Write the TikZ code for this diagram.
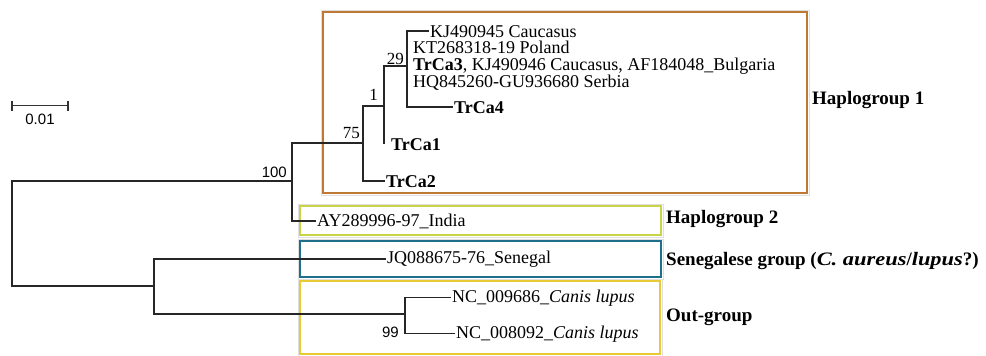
\documentclass[tikz,border=0pt]{standalone}
\usepackage{fontspec}
\setmainfont{Liberation Serif}
\setsansfont{Liberation Sans}
\usetikzlibrary{positioning, calc}
\definecolor{hap_one}{RGB}{190,122,52}
\definecolor{hap_two}{RGB}{200,212,72}
\definecolor{sen_col}{RGB}{30,110,140}
\definecolor{out_col}{RGB}{232,202,52}
\newcommand{\wideit}[1]{{\addfontfeature{FakeStretch=1.18}\itshape #1}}
\tikzset{
  branch/.style={line width=1.6pt, black!85},
  scale_bar/.style={line width=1.2pt, black!80},
  leaf/.style={anchor=base west, inner xsep=1.5pt, inner ysep=0pt, font=\fontsize{18}{18}\selectfont},
  leaf_bold/.style={leaf, font=\fontsize{18}{18}\selectfont\bfseries},
  support/.style={anchor=base east, inner sep=0pt, font=\fontsize{17}{17}\selectfont},
  support_sans/.style={anchor=base east, inner sep=0pt, font=\sffamily\fontsize{15}{15}\selectfont},
  group_label/.style={anchor=base west, inner sep=0pt, font=\fontsize{19}{19}\selectfont\bfseries},
  group_box/.style={line width=1.3pt},
  box_rim/.style={draw=gray!25, line width=0.8pt}
}

\begin{document}
\begin{tikzpicture}[x=1pt, y=-1pt]
  \useasboundingbox (0,0) rectangle (986,356);

  % Group boxes
  \foreach \a/\b/\c/\d/\col in {323/12/807/193/hap_one, 300/206/661/235/hap_two, 300/241/661/277/sen_col, 300/281/660/354/out_col}{
    \draw[box_rim] (\a-2,\b-2) rectangle (\c+2,\d+2);
    \draw[group_box, draw=\col] (\a,\b) rectangle (\c,\d);
  }

  % Leaves
  \node[leaf] (kj45) at (428.5,37) {KJ490945 Caucasus};
  \node[leaf] (kt) at (411.5,53) {KT268318-19 Poland};
  \node[leaf] (trca3) at (411.5,70) {\textbf{TrCa3}, KJ490946 Caucasus, AF184048\_Bulgaria};
  \node[leaf] (hq) at (411.5,87) {HQ845260-GU936680 Serbia};
  \node[leaf_bold] (trca4) at (452.5,113) {TrCa4};
  \node[leaf_bold] (trca1) at (389.5,150) {TrCa1};
  \node[leaf_bold] (trca2) at (384.5,187) {TrCa2};
  \node[leaf] (india) at (315.5,226) {AY289996-97\_India};
  \node[leaf] (senegal) at (385.5,263) {JQ088675-76\_Senegal};
  \node[leaf] (nc686) at (450.5,302) {NC\_009686\_\textit{Canis lupus}};
  \node[leaf] (nc092) at (454.5,338) {NC\_008092\_\textit{Canis lupus}};

  % Internal nodes
  \coordinate (root) at (12,230);
  \coordinate (n100) at (292,181);
  \coordinate (nlow) at (154,286);
  \coordinate (n75) at (363,143);
  \coordinate (n1) at (384,106);
  \coordinate (n29) at (407,66);
  \coordinate (n99) at (405,314);

  % Branches
  \draw[branch] (n100) -| (root) |- (nlow);
  \draw[branch] (n75) -| (n100) |- (india.west);
  \draw[branch] (n1) -| (n75) |- (trca2.west);
  \draw[branch] (n29) -| (n1) -- (n1 |- trca1.west);
  \draw[branch] (kj45.west) -| (n29) |- (trca4.west);
  \draw[branch] (senegal.west) -| (nlow) |- (n99);
  \draw[branch] (nc686.west) -| (n99) |- (nc092.west);

  % Support values
  \node[support_sans] (s100) at (287,177) {100};
  \node[support] (s75) at (360,138) {75};
  \node[support] (s1) at (378,100) {1};
  \node[support] (s29) at (404,64) {29};
  \node[support_sans] (s99) at (399,337) {99};

  % Group labels
  \node[group_label] (g_one) at (812,104) {Haplogroup 1};
  \node[group_label] (g_two) at (666,223) {Haplogroup 2};
  \node[group_label] (g_sen) at (666,265) {Senegalese group (\wideit{C. aureus}/\wideit{lupus}?)};
  \node[group_label] (g_out) at (666,321) {Out-group};

  % Scale bar
  \coordinate (bar_l) at (12,105.5);
  \coordinate (bar_r) at (68,105.5);
  \draw[scale_bar] (bar_l) -- (bar_r);
  \draw[scale_bar] ($(bar_l)+(0,-5)$) -- ($(bar_l)+(0,5)$);
  \draw[scale_bar] ($(bar_r)+(0,-5)$) -- ($(bar_r)+(0,5)$);
  \node[anchor=base, inner sep=0pt, font=\sffamily\fontsize{15}{15}\selectfont] (bar_lbl) at (40,124) {0.01};
\end{tikzpicture}
\end{document}
